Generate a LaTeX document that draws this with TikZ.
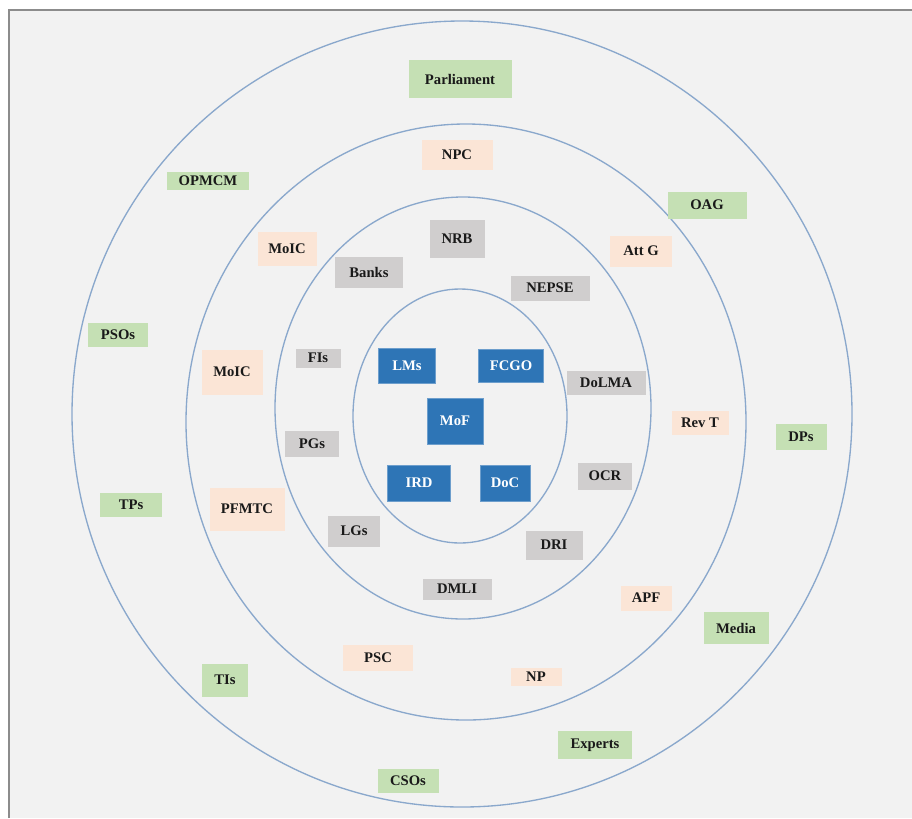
\documentclass[tikz,border=0pt]{standalone}
\usepackage{fontspec}
\setmainfont{Liberation Serif}
\definecolor{framebg}{HTML}{F2F2F2}
\definecolor{frameline}{HTML}{8C8C8C}
\definecolor{ringline}{HTML}{8AA8CC}
\definecolor{outerfill}{HTML}{C5E0B4}
\definecolor{midfill}{HTML}{FBE5D6}
\definecolor{innerfill}{HTML}{D0CECE}
\definecolor{corefill}{HTML}{2E75B6}

\begin{document}
\begin{tikzpicture}[x=0.75pt, y=-0.75pt, font=\fontsize{11}{13}\selectfont\bfseries]
        \tikzstyle{box} = [rectangle, inner sep=0pt, text=black!90]
        \tikzstyle{outerbox} = [box, fill=outerfill]
        \tikzstyle{midbox} = [box, fill=midfill]
        \tikzstyle{innerbox} = [box, fill=innerfill]
        \tikzstyle{corebox} = [box, fill=corefill, draw=corefill!70!white, text=white]
        \tikzstyle{ring} = [draw=ringline, line width=1pt]
        \tikzset{boxsize/.style 2 args={minimum width=#1*0.75pt, minimum height=#2*0.75pt}}

        % page and frame
        \useasboundingbox[fill=white] (0,0) rectangle (912,818);
        \fill[framebg] (9,10) rectangle (912,818);
        \draw[frameline, line width=1.5pt] (9,818) -- (9,10) -- (912,10);

        % rings
        \draw[ring] (462,414) ellipse [x radius=390, y radius=393];
        \draw[ring] (466,422) ellipse [x radius=280, y radius=298];
        \draw[ring] (463,408) ellipse [x radius=188, y radius=211];
        \draw[ring] (460,416) ellipse [x radius=107, y radius=127];

        % outer ring
        \node[outerbox, boxsize={103}{38}] (parl) at (460,79) {Parliament};
        \node[outerbox, boxsize={82}{18}] (opmcm) at (208,181) {OPMCM};
        \node[outerbox, boxsize={79}{27}] (oag) at (707,205) {OAG};
        \node[outerbox, boxsize={60}{24}] (psos) at (118,335) {PSOs};
        \node[outerbox, boxsize={51}{26}] (dps) at (801,437) {DPs};
        \node[outerbox, boxsize={62}{24}] (tps) at (131,505) {TPs};
        \node[outerbox, boxsize={65}{32}] (media) at (736,628) {Media};
        \node[outerbox, boxsize={46}{33}] (tis) at (225,680) {TIs};
        \node[outerbox, boxsize={74}{28}] (experts) at (595,745) {Experts};
        \node[outerbox, boxsize={61}{24}] (csos) at (408,781) {CSOs};

        % second ring
        \node[midbox, boxsize={71}{30}] (npc) at (457,155) {NPC};
        \node[midbox, boxsize={59}{34}] (moicA) at (287,249) {MoIC};
        \node[midbox, boxsize={62}{31}] (attg) at (641,251) {Att G};
        \node[midbox, boxsize={61}{45}] (moicB) at (232,372) {MoIC};
        \node[midbox, boxsize={57}{24}] (revt) at (700,423) {Rev T};
        \node[midbox, boxsize={75}{43}] (pfmtc) at (247,509) {PFMTC};
        \node[midbox, boxsize={51}{25}] (apf) at (646,598) {APF};
        \node[midbox, boxsize={70}{26}] (psc) at (378,658) {PSC};
        \node[midbox, boxsize={51}{18}] (np) at (536,677) {NP};

        % third ring
        \node[innerbox, boxsize={55}{38}] (nrb) at (457,239) {NRB};
        \node[innerbox, boxsize={68}{31}] (banks) at (369,272) {Banks};
        \node[innerbox, boxsize={79}{25}] (nepse) at (550,288) {NEPSE};
        \node[innerbox, boxsize={45}{19}] (fis) at (318,358) {FIs};
        \node[innerbox, boxsize={79}{24}] (dolma) at (606,383) {DoLMA};
        \node[innerbox, boxsize={54}{26}] (pgs) at (312,444) {PGs};
        \node[innerbox, boxsize={54}{27}] (ocr) at (605,476) {OCR};
        \node[innerbox, boxsize={52}{31}] (lgs) at (354,531) {LGs};
        \node[innerbox, boxsize={57}{29}] (dri) at (554,545) {DRI};
        \node[innerbox, boxsize={69}{21}] (dmli) at (457,589) {DMLI};

        % core
        \node[corebox, boxsize={57}{35}] (lms) at (407,366) {LMs};
        \node[corebox, boxsize={65}{33}] (fcgo) at (511,366) {FCGO};
        \node[corebox, boxsize={56}{46}] (mof) at (455,421) {MoF};
        \node[corebox, boxsize={63}{36}] (ird) at (419,483) {IRD};
        \node[corebox, boxsize={50}{36}] (doc) at (505,483) {DoC};
    \end{tikzpicture}
\end{document}
